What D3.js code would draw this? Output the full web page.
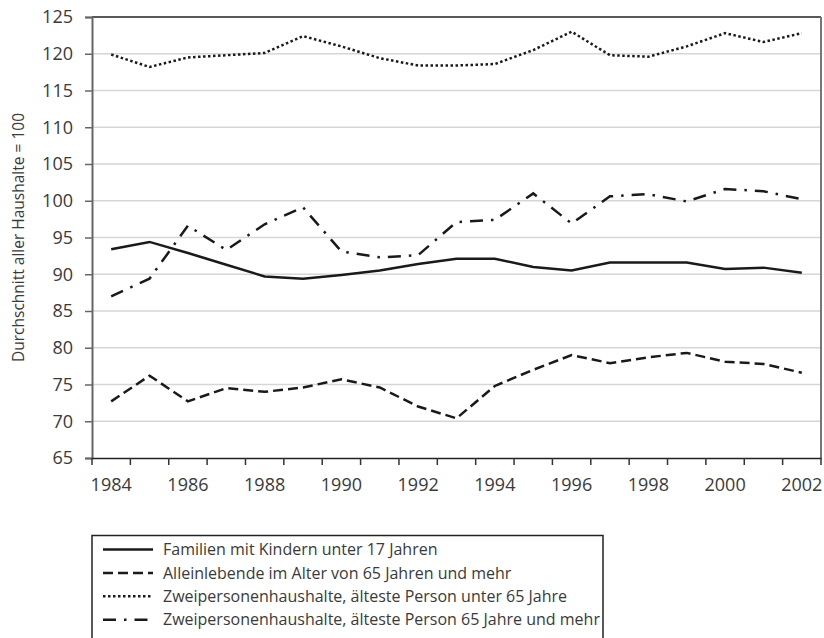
<!DOCTYPE html>
<html>
<head>
<meta charset="utf-8">
<script src="https://cdn.jsdelivr.net/npm/d3@7"></script>
<style>
  body { margin: 0; background: #fff; }
  svg { display: block; font-family: "Open Sans", sans-serif; }
</style>
</head>
<body>
<svg width="824" height="638"></svg>
<script>
// DATA
const years = d3.range(1984, 2003);
const familien = [93.4, 94.4, 92.9, 91.3, 89.7, 89.4, 89.9, 90.5, 91.4, 92.1, 92.1, 91.0, 90.5, 91.6, 91.6, 91.6, 90.7, 90.9, 90.2];
const alleinlebende = [72.7, 76.2, 72.7, 74.5, 74.0, 74.6, 75.7, 74.6, 72.0, 70.4, 74.8, 77.0, 79.0, 77.9, 78.7, 79.3, 78.1, 77.8, 76.6];
const zweiUnter65 = [119.9, 118.2, 119.5, 119.8, 120.1, 122.4, 121.0, 119.4, 118.4, 118.4, 118.6, 120.5, 123.0, 119.8, 119.6, 121.0, 122.8, 121.6, 122.8];
const zwei65 = [87.0, 89.4, 96.6, 93.3, 96.8, 99.1, 93.1, 92.3, 92.6, 97.1, 97.4, 101.0, 96.9, 100.6, 100.9, 99.9, 101.6, 101.3, 100.2];
const yTicks = d3.range(65, 126, 5);
const xLabels = years.filter(d => d % 2 === 0);

const series = [
  { name: "Familien mit Kindern unter 17 Jahren", values: familien, dash: null },
  { name: "Alleinlebende im Alter von 65 Jahren und mehr", values: alleinlebende, dash: "10,5" },
  { name: "Zweipersonenhaushalte, älteste Person unter 65 Jahre", values: zweiUnter65, dash: "2.5,2.5" },
  { name: "Zweipersonenhaushalte, älteste Person 65 Jahre und mehr", values: zwei65, dash: "13,8,2.5,8" }
];

const svg = d3.select("svg");

// CONSTANTS
const margin = { top: 17, left: 92, right: 3, bottom: 180 };
const width = +svg.attr("width");
const height = +svg.attr("height");
const innerWidth = width - margin.left - margin.right;
const innerHeight = height - margin.top - margin.bottom;

// SCALES
const x = d3.scaleBand().domain(years).range([0, innerWidth]);
const y = d3.scaleLinear().domain([65, 125]).range([innerHeight, 0]);

const g = svg.append("g").attr("transform", `translate(${margin.left},${margin.top})`);

// grid
g.selectAll(".grid")
  .data(yTicks.filter(d => d !== 65 && d !== 125))
  .enter()
  .append("line")
  .attr("x1", 0)
  .attr("x2", innerWidth)
  .attr("y1", d => y(d))
  .attr("y2", d => y(d))
  .attr("stroke", "#d6d6d6")
  .attr("stroke-width", 1.5);

// top and right border
g.append("line").attr("x1", 0).attr("x2", innerWidth).attr("y1", 0).attr("y2", 0)
  .attr("stroke", "#222").attr("stroke-width", 1.5);
g.append("line").attr("x1", innerWidth).attr("x2", innerWidth).attr("y1", 0).attr("y2", innerHeight)
  .attr("stroke", "#777").attr("stroke-width", 2);

// y axis
const yAxis = g.append("g")
  .call(d3.axisLeft(y).tickValues(yTicks).tickSize(7).tickPadding(12));
yAxis.select(".domain").attr("stroke", "#666").attr("stroke-width", 2);
yAxis.selectAll(".tick line").attr("stroke", "#666").attr("stroke-width", 1.5);
yAxis.selectAll(".tick text").attr("font-size", 18).attr("fill", "#3a3a3a")
  .attr("font-family", "Open Sans, sans-serif");

// x axis (labels centred in bands, ticks at band edges)
const xAxis = g.append("g")
  .attr("transform", `translate(0,${innerHeight})`)
  .call(d3.axisBottom(x).tickValues(xLabels).tickSize(0).tickPadding(20));
xAxis.select(".domain").attr("stroke", "#222").attr("stroke-width", 1.5);
xAxis.selectAll(".tick text").attr("font-size", 18).attr("fill", "#3a3a3a")
  .attr("font-family", "Open Sans, sans-serif");
xAxis.selectAll(".edge")
  .data(years.concat([null]))
  .enter()
  .append("line")
  .attr("x1", d => (d === null ? innerWidth : x(d)))
  .attr("x2", d => (d === null ? innerWidth : x(d)))
  .attr("y1", 0)
  .attr("y2", 7)
  .attr("stroke", "#333")
  .attr("stroke-width", 1.5);

// y axis title
svg.append("text")
  .attr("transform", `translate(24,${margin.top + innerHeight / 2}) rotate(-90)`)
  .attr("text-anchor", "middle")
  .attr("font-size", 15.5)
  .attr("fill", "#3a3a3a")
  .text("Durchschnitt aller Haushalte = 100");

// lines
const line = d3.line()
  .x((d, i) => x(years[i]) + x.bandwidth() / 2)
  .y(d => y(d));

g.selectAll(".series")
  .data(series)
  .enter()
  .append("path")
  .attr("d", d => line(d.values))
  .attr("fill", "none")
  .attr("stroke", "#1a1a1a")
  .attr("stroke-width", 2.5)
  .attr("stroke-dasharray", d => d.dash);

// legend (box runs off the bottom edge, so only three sides are drawn)
const legend = svg.append("g").attr("transform", "translate(92,535.5)");
legend.append("path")
  .attr("d", `M0,${height - 535.5} V0 H511 V${height - 535.5}`)
  .attr("fill", "none")
  .attr("stroke", "#222")
  .attr("stroke-width", 1.5);

const item = legend.selectAll(".item")
  .data(series)
  .enter()
  .append("g")
  .attr("transform", (d, i) => `translate(0,${14 + i * 23.4})`);

item.append("line")
  .attr("x1", 11)
  .attr("x2", 61)
  .attr("stroke", "#1a1a1a")
  .attr("stroke-width", 2.5)
  .attr("stroke-dasharray", d => d.dash);

item.append("text")
  .attr("x", 71)
  .attr("dy", "0.35em")
  .attr("font-size", 16)
  .attr("fill", "#3a3a3a")
  .text(d => d.name);
</script>
</body>
</html>
